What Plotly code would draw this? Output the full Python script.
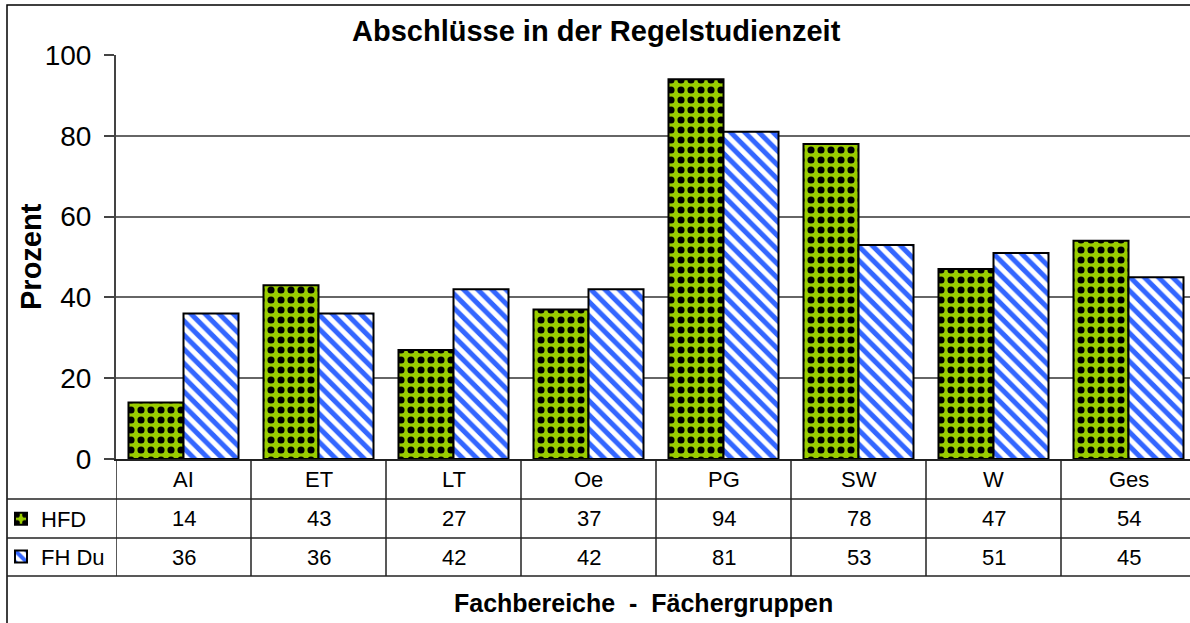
import plotly.graph_objects as go

# data
categories = ["AI", "ET", "LT", "Oe", "PG", "SW", "W", "Ges"]
hfd = [14, 43, 27, 37, 94, 78, 47, 54]
fh_du = [36, 36, 42, 42, 81, 53, 51, 45]
series_names = ["HFD", "FH Du"]

FONT = "Liberation Sans, Arial, sans-serif"
W, H = 1190, 623
L, T, B = 116, 55, 164          # plot area margins (px)
PLOT_H = H - T - B
PLOT_W = W - L
COL_W = 135                      # px per category column


def py(p):
    # pixel row -> paper y
    return (H - B - p) / PLOT_H


def px(p):
    # pixel column -> paper x
    return (p - L) / PLOT_W


fig = go.Figure()

fig.add_trace(go.Bar(
    x=categories, y=hfd, name=series_names[0], legendgroup="a",
    marker=dict(color="#99cc00", line=dict(color="black", width=2),
                pattern=dict(shape=".", fgcolor="black", bgcolor="#99cc00",
                             fgopacity=1, size=10, solidity=0.4)),
))
fig.add_trace(go.Bar(
    x=categories, y=fh_du, name=series_names[1], legendgroup="b",
    marker=dict(color="white", line=dict(color="black", width=2),
                pattern=dict(shape="\\", fgcolor="#3366ff", bgcolor="white",
                             fgopacity=1, size=10, solidity=0.5)),
))

# table below the plot: lines
line_style = dict(color="#222", width=1.5)
shapes = [
    # outer chart border
    dict(type="rect", xref="paper", yref="paper", x0=px(7), x1=px(1210),
         y0=py(650), y1=py(5), line=dict(color="black", width=1.5)),
]
for yy in (499, 538, 576):
    shapes.append(dict(type="line", xref="paper", yref="paper",
                       x0=px(7), x1=px(1210), y0=py(yy), y1=py(yy), line=line_style))
for i in range(len(categories) + 1):
    shapes.append(dict(type="line", xref="x", yref="paper",
                       x0=i - 0.5, x1=i - 0.5, y0=py(576), y1=0, line=line_style))

# table text
annotations = []
cell_font = dict(family=FONT, size=22, color="black")
rows = [(479, categories), (518.5, hfd), (557, fh_du)]
for yy, vals in rows:
    for i, v in enumerate(vals):
        annotations.append(dict(x=i, y=py(yy), xref="x", yref="paper", text=str(v),
                                xanchor="center", yanchor="middle",
                                showarrow=False, font=cell_font))

annotations += [
    dict(x=px(596.5), y=py(31), xref="paper", yref="paper",
         text="<b>Abschlüsse in der Regelstudienzeit</b>", showarrow=False,
         xanchor="center", yanchor="middle",
         font=dict(family=FONT, size=29, color="black")),
    dict(x=px(643.5), y=py(603), xref="paper", yref="paper",
         text="<b>Fachbereiche  -  Fächergruppen</b>", showarrow=False,
         xanchor="center", yanchor="middle",
         font=dict(family=FONT, size=25, color="black")),
    dict(x=px(31), y=0.5, xref="paper", yref="paper", textangle=-90,
         text="<b>Prozent</b>", showarrow=False,
         xanchor="center", yanchor="middle",
         font=dict(family=FONT, size=29, color="black")),
]

fig.update_layout(
    width=W, height=H,
    margin=dict(l=L, r=0, t=T, b=B),
    paper_bgcolor="white", plot_bgcolor="white",
    barmode="group", bargap=0.185, bargroupgap=0,
    font=dict(family=FONT, color="black"),
    shapes=shapes, annotations=annotations,
    legend=dict(x=px(1), y=py(498), xanchor="left", yanchor="top",
                traceorder="grouped", tracegroupgap=6, itemwidth=30,
                font=dict(family=FONT, size=22), bgcolor="rgba(0,0,0,0)"),
    showlegend=True,
)
fig.update_xaxes(range=[-0.5, -0.5 + PLOT_W / COL_W], showticklabels=False,
                 showline=True, linecolor="#222", linewidth=1.5, showgrid=False,
                 zeroline=False)
fig.update_yaxes(range=[0, 100], tickvals=[0, 20, 40, 60, 80, 100],
                 tickfont=dict(family=FONT, size=28, color="black"),
                 ticklabelstandoff=7,
                 showline=True, linecolor="#444", linewidth=2,
                 ticks="outside", ticklen=10, tickcolor="#444", tickwidth=1.5,
                 showgrid=True, gridcolor="#666", gridwidth=1.5, zeroline=False)

# the page body has a default margin; drop it so the figure sits at the top-left
fig.write_html("out.html", config={"displayModeBar": False},
               post_script="document.body.style.margin='0';")
